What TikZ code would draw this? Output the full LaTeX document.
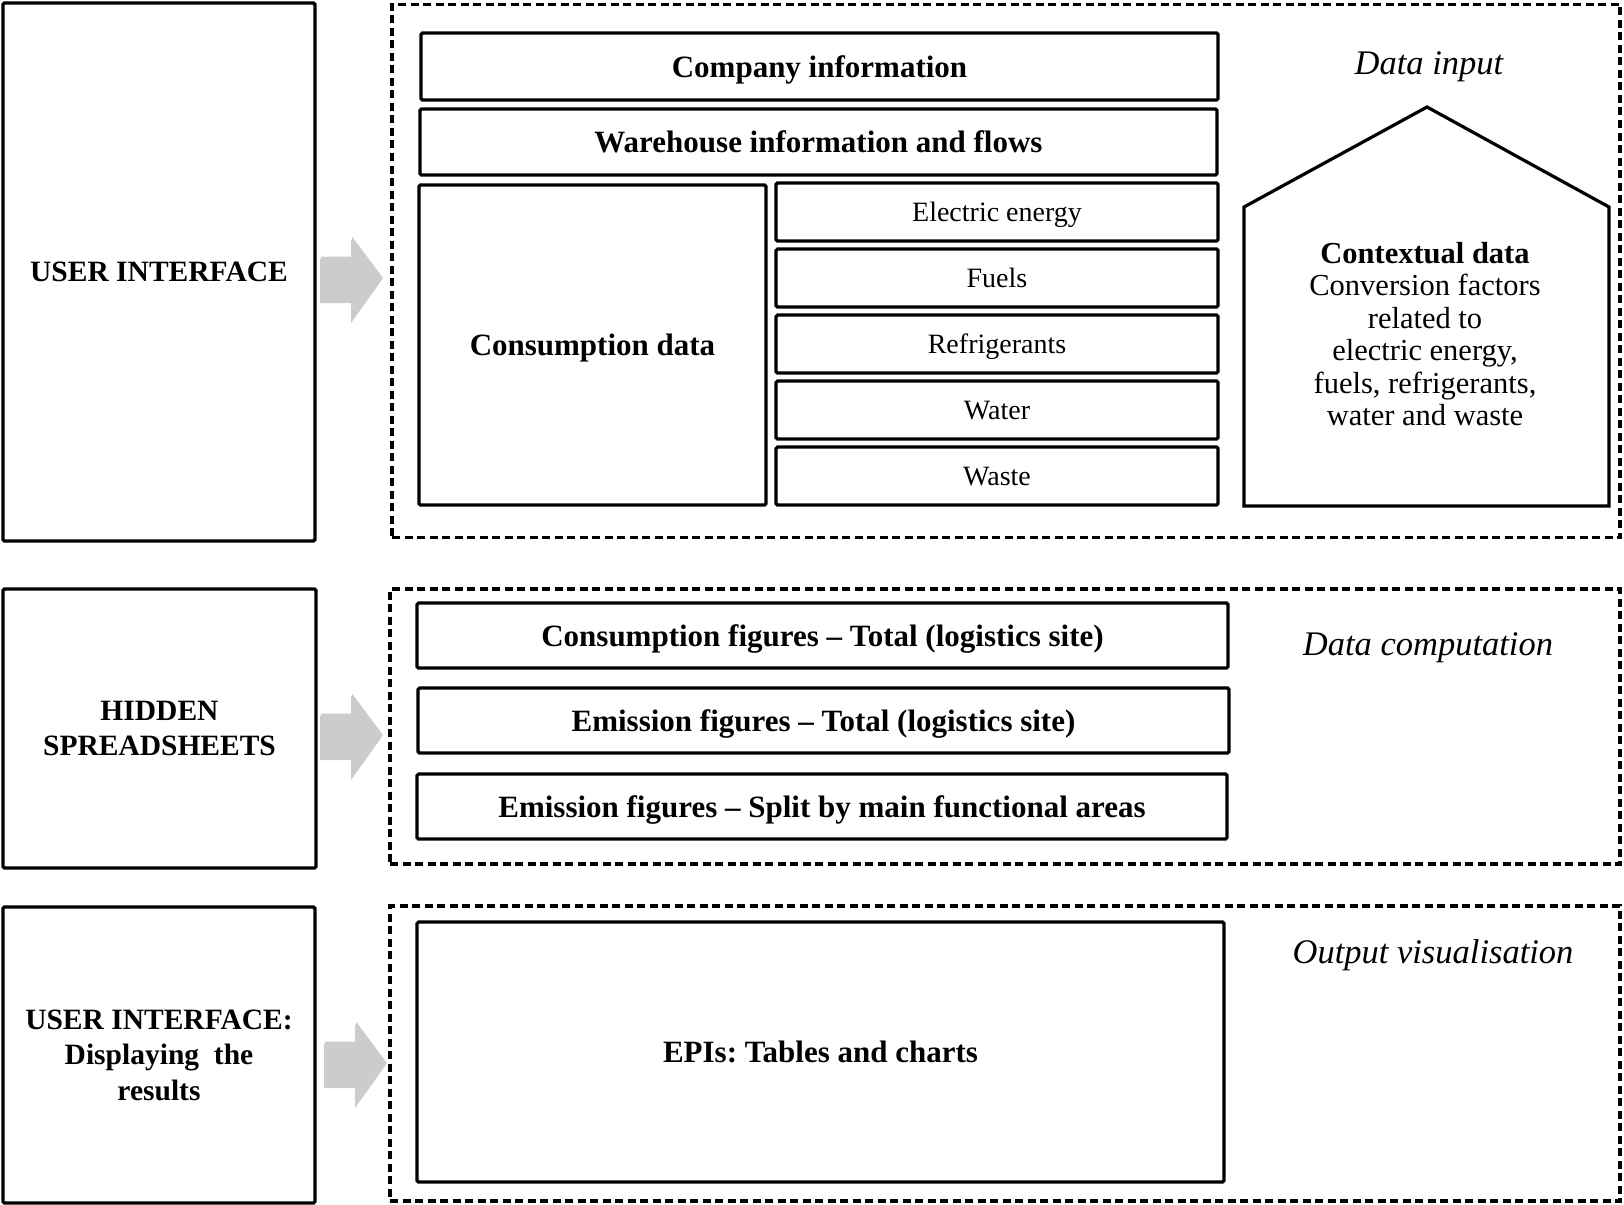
\documentclass[tikz,border=0pt]{standalone}
\usepackage{fontspec}
\setmainfont{Liberation Serif}
\frenchspacing
\usetikzlibrary{calc}
\begin{document}
\begin{tikzpicture}[x=1pt,y=-1pt,
 box/.style={draw, line width=3.2pt, rounded corners=1.5pt, inner sep=0pt, align=center},
 dbox/.style={draw, line width=3.2pt, dash pattern=on 8pt off 4.5pt, inner sep=0pt},
 bigtxt/.style={font=\fontsize{31}{33}\selectfont\bfseries, text depth=0pt},
 smalltxt/.style={font=\fontsize{28}{30}\selectfont, text depth=0pt},
 lbl/.style={font=\fontsize{34.5}{36}\selectfont\itshape},
 lefttxt/.style={font=\fontsize{29.5}{35.5}\selectfont\bfseries, align=center},
 arrowfill/.style={fill=black!20},
 arrowshadow/.style={fill=black!45, opacity=0.45},
 blockarr/.pic={
   \fill[arrowshadow] (-32,-19) -- (-1,-19) -- (-1,-39) -- (29,3) -- (-1,45) -- (-1,25) -- (-32,25) -- cycle;
   \fill[arrowfill] (-31,-21.5) -- (0,-21.5) -- (0,-41.5) -- (31,0) -- (0,41.5) -- (0,21.5) -- (-31,21.5) -- cycle;
 }]
\useasboundingbox (0,0) rectangle (1624,1204);

% left column
\node[box, minimum width=312, minimum height=538, lefttxt] (ui1) at (159,272) {USER INTERFACE};
\node[box, minimum width=313, minimum height=279, lefttxt] (hid) at (159.5,728.5) {HIDDEN\\SPREADSHEETS};
\node[box, minimum width=312, minimum height=296, lefttxt] (ui2) at (159,1055) {USER INTERFACE:\\Displaying\ \ the\\results};

% dashed frames
\node[dbox, minimum width=1228, minimum height=533] (din) at (1006,271) {};
\node[dbox, minimum width=1230, minimum height=275] (dcomp) at (1005,726.5) {};
\node[dbox, minimum width=1230, minimum height=295] (dout) at (1005,1053.5) {};

% frame labels
\node[lbl] (lin) at (1429,67) {Data input};
\node[lbl] (lcomp) at (1428,648) {Data computation};
\node[lbl] (lout) at (1433,955) {Output visualisation};

% data input
\node[box, minimum width=797, minimum height=67, bigtxt] (comp) at (819.5,66.5) {Company information};
\node[box, minimum width=797, minimum height=66, bigtxt] (ware) at (818.5,142) {Warehouse information and flows};
\node[box, minimum width=347, minimum height=320, bigtxt] (cons) at (592.5,345) {Consumption data};
\node[box, minimum width=442, minimum height=58, smalltxt] (elec) at (997,212) {Electric energy};
\node[box, minimum width=442, minimum height=58, smalltxt] (fuel) at (997,278) {Fuels};
\node[box, minimum width=442, minimum height=58, smalltxt] (refr) at (997,344) {Refrigerants};
\node[box, minimum width=442, minimum height=58, smalltxt] (watr) at (997,410) {Water};
\node[box, minimum width=442, minimum height=58, smalltxt] (wast) at (997,476) {Waste};

% house
\draw[line width=3.2pt, line join=miter] (1244,506) -- (1244,207) -- (1427,107) -- (1609,207) -- (1609,506) -- cycle;
\node[align=center, font=\fontsize{30.5}{32.5}\selectfont] (ctx) at (1425,334)
  {\textbf{Contextual data}\\Conversion factors\\related to\\electric energy,\\fuels, refrigerants,\\water and waste};

% data computation
\node[box, minimum width=811, minimum height=65, bigtxt] (cfig) at (822.5,635.5) {Consumption figures -- Total (logistics site)};
\node[box, minimum width=811, minimum height=65, bigtxt] (etot) at (823.5,720.5) {Emission figures -- Total (logistics site)};
\node[box, minimum width=810, minimum height=65, bigtxt] (esplit) at (822,806.5) {Emission figures -- Split by main functional areas};

% output
\node[box, minimum width=807, minimum height=260, bigtxt] (epi) at (820.5,1052) {EPIs: Tables and charts};

% block arrows
\pic at (352,278) {blockarr};
\pic at (352,735) {blockarr};
\pic at (356,1063) {blockarr};
\end{tikzpicture}
\end{document}
